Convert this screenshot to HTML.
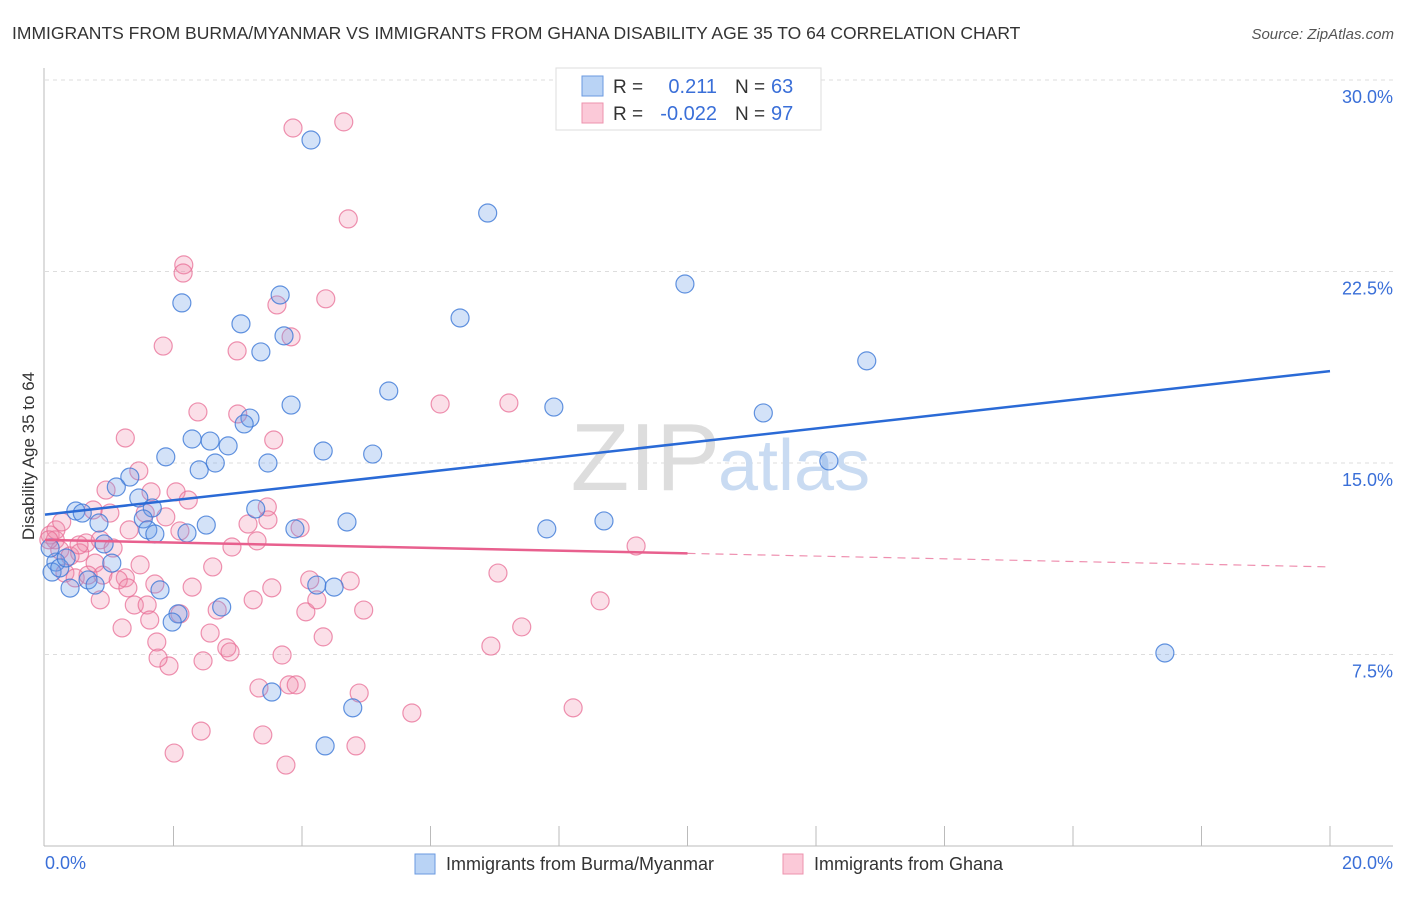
<!DOCTYPE html>
<html><head><meta charset="utf-8"><style>
body{margin:0;background:#fff;font-family:"Liberation Sans",sans-serif;}
svg text{font-family:"Liberation Sans",sans-serif;}
</style></head><body>
<svg id="chart" width="1406" height="892" viewBox="0 0 1406 892" xmlns="http://www.w3.org/2000/svg">
<text x="12" y="39" font-size="17.5" fill="#333">IMMIGRANTS FROM BURMA/MYANMAR VS IMMIGRANTS FROM GHANA DISABILITY AGE 35 TO 64 CORRELATION CHART</text>
<text x="1394" y="39" font-size="15" fill="#555" font-style="italic" text-anchor="end">Source: ZipAtlas.com</text>
<g id="grid"></g>
<g id="axes"></g>
<text x="720" y="490" font-size="96" fill="#ddd" font-family="Liberation Serif" text-anchor="end">ZIP</text>
<text x="718" y="490" font-size="72" fill="#c9dbf2">atlas</text>
<g id="marks"></g>
<g id="trends"></g>
<text transform="translate(34,456) rotate(-90)" font-size="17" fill="#333" text-anchor="middle">Disability Age 35 to 64</text>
<text x="45" y="869" font-size="18" fill="#3a6fd8">0.0%</text>
<text x="1393" y="869" font-size="18" fill="#3a6fd8" text-anchor="end">20.0%</text>
<g>
<rect x="556" y="68" width="265" height="62" fill="#fff" stroke="#ddd"/>
<rect x="582" y="76" width="21" height="20" fill="#b9d3f5" stroke="#6a9ae0"/>
<rect x="582" y="103" width="21" height="20" fill="#fbc9d8" stroke="#ec93ae"/>
<text x="613" y="93" font-size="19" fill="#333">R = </text><text x="717" y="93" font-size="20" fill="#3a6fd8" text-anchor="end">0.211</text>
<text x="735" y="93" font-size="19" fill="#333">N = </text><text x="771" y="93" font-size="20" fill="#3a6fd8">63</text>
<text x="613" y="120" font-size="19" fill="#333">R = </text><text x="717" y="120" font-size="20" fill="#3a6fd8" text-anchor="end">-0.022</text>
<text x="735" y="120" font-size="19" fill="#333">N = </text><text x="771" y="120" font-size="20" fill="#3a6fd8">97</text>
</g>
<g>
<rect x="415" y="854" width="20" height="20" fill="#b9d3f5" stroke="#6a9ae0"/>
<text x="446" y="870" font-size="18" fill="#333">Immigrants from Burma/Myanmar</text>
<rect x="783" y="854" width="20" height="20" fill="#fbc9d8" stroke="#ec93ae"/>
<text x="814" y="870" font-size="18" fill="#333">Immigrants from Ghana</text>
</g>
</svg>
<script>
const yTicks=[7.5,15,22.5,30];
const yTickLabels=["7.5%","15.0%","22.5%","30.0%"];
const blueX=[4.14,6.89,9.96,2.13,3.66,6.46,3.05,3.72,3.36,12.79,5.35,3.83,7.92,11.18,3.19,3.10,2.29,2.57,2.85,1.88,2.65,2.40,3.47,4.33,5.10,12.20,1.32,1.11,1.46,1.67,0.48,0.58,0.84,1.53,2.51,3.28,3.89,4.70,7.81,8.70,1.60,1.71,2.21,0.92,1.04,0.17,0.11,0.23,0.39,0.67,0.78,1.79,2.07,1.98,2.75,4.23,4.50,3.53,4.79,4.36,17.43,0.08,0.33];
const blueY=[27.65,24.79,22.01,21.27,21.58,20.68,20.45,19.98,19.35,19.00,17.82,17.27,17.19,16.96,16.76,16.53,15.94,15.86,15.67,15.24,15.00,14.73,15.00,15.47,15.35,15.08,14.45,14.06,13.63,13.24,13.12,13.04,12.65,12.81,12.57,13.20,12.42,12.69,12.42,12.73,12.38,12.22,12.26,11.83,11.08,11.12,10.73,10.89,10.10,10.42,10.22,10.03,9.09,8.77,9.36,10.22,10.14,6.03,5.41,3.92,7.56,11.67,11.28];
const pinkX=[3.86,4.65,4.72,2.16,2.15,4.37,3.61,3.83,1.84,2.99,6.15,7.22,2.38,3.00,1.25,3.56,1.46,0.95,1.65,2.04,2.23,0.75,1.88,1.56,3.46,3.16,3.47,3.97,1.31,2.10,0.64,0.86,1.06,2.91,3.30,9.20,0.08,0.16,0.23,0.39,0.54,0.78,0.31,0.47,0.90,1.25,2.61,7.05,1.14,1.29,1.71,2.29,3.53,4.75,1.39,1.59,2.68,4.06,4.23,4.96,8.64,1.20,2.57,4.33,7.42,1.74,2.83,3.69,1.93,2.46,2.88,6.94,3.33,3.80,3.91,4.89,5.71,8.22,2.43,3.39,2.01,4.84,3.75,0.17,0.06,0.26,1.01,1.76,0.67,0.53,1.63,2.10,3.24,4.12,0.86,1.48];
const pinkY=[28.12,28.36,24.56,22.76,22.44,21.43,21.19,19.94,19.58,19.39,17.31,17.35,17.00,16.92,15.98,15.90,14.69,13.94,13.87,13.87,13.55,13.16,12.89,13.04,13.28,12.61,12.77,12.46,12.38,12.34,11.87,11.99,11.67,11.71,11.95,11.75,12.18,11.99,11.59,11.36,11.48,11.08,10.69,10.50,10.61,10.50,10.93,10.69,10.42,10.11,10.26,10.14,10.11,10.38,9.44,9.44,9.24,9.17,9.64,9.24,9.60,8.54,8.34,8.19,8.58,7.99,7.76,7.48,7.05,7.25,7.60,7.83,6.19,6.31,6.31,5.99,5.21,5.41,4.50,4.35,3.64,3.92,3.17,12.38,11.99,12.69,13.04,7.36,10.61,11.79,8.85,9.09,9.64,10.42,9.64,11.01];
const blueTrend=[12.98,18.6];
const pinkTrend=[11.99,10.93];
const pinkSolidEnd=10;

const NS="http://www.w3.org/2000/svg";
function sx(v){return 45+v/20*1285;}
function sy(v){return 846-v/7.5*191.5;}
function mk(tag,attrs,parent){const e=document.createElementNS(NS,tag);for(const k in attrs)e.setAttribute(k,attrs[k]);parent.appendChild(e);return e;}
const grid=document.getElementById('grid'),axes=document.getElementById('axes'),marks=document.getElementById('marks'),trends=document.getElementById('trends');
yTicks.forEach((t,i)=>{
  const l=mk('line',{x1:45,x2:1393,y1:sy(t),y2:sy(t),stroke:'#ddd','stroke-dasharray':'4,4'},grid);
  
  
  const tx=mk('text',{x:1393,y:sy(t)+23,'font-size':18,fill:'#3a6fd8','text-anchor':'end'},axes);
  tx.textContent=yTickLabels[i];
  
  
});
const yl=mk('line',{x1:44,x2:44,y1:68,y2:846,stroke:'#bbb'},axes);


const xl=mk('line',{x1:44,x2:1393,y1:846,y2:846,stroke:'#bbb'},axes);


for(let i=1;i<=10;i++){
  const tk=mk('line',{x1:sx(i*2),x2:sx(i*2),y1:826,y2:846,stroke:'#bbb'},axes);
  
  
}
function dots(xs,ys,fill,stroke,name){
  xs.forEach((x,i)=>{
    const c=mk('circle',{cx:sx(x),cy:sy(ys[i]),r:9,fill:fill,stroke:stroke,'stroke-width':1.2},marks);
    
    
  });
}
dots(pinkX,pinkY,'rgba(242,140,172,0.28)','rgba(232,110,150,0.75)','ghana-point');
dots(blueX,blueY,'rgba(110,160,232,0.3)','rgba(60,120,215,0.8)','burma-point');
const bt=mk('line',{x1:sx(0),y1:sy(blueTrend[0]),x2:sx(20),y2:sy(blueTrend[1]),stroke:'#2a6ad6','stroke-width':2.5},trends);


const pm=pinkTrend[0]+(pinkTrend[1]-pinkTrend[0])*pinkSolidEnd/20;
const pt=mk('line',{x1:sx(0),y1:sy(pinkTrend[0]),x2:sx(pinkSolidEnd),y2:sy(pm),stroke:'#e8608e','stroke-width':2.5},trends);


const pd=mk('line',{x1:sx(pinkSolidEnd),y1:sy(pm),x2:sx(20),y2:sy(pinkTrend[1]),stroke:'#e8608e','stroke-width':1.2,'stroke-dasharray':'8,6',opacity:0.7},trends);


</script>
</body></html>
